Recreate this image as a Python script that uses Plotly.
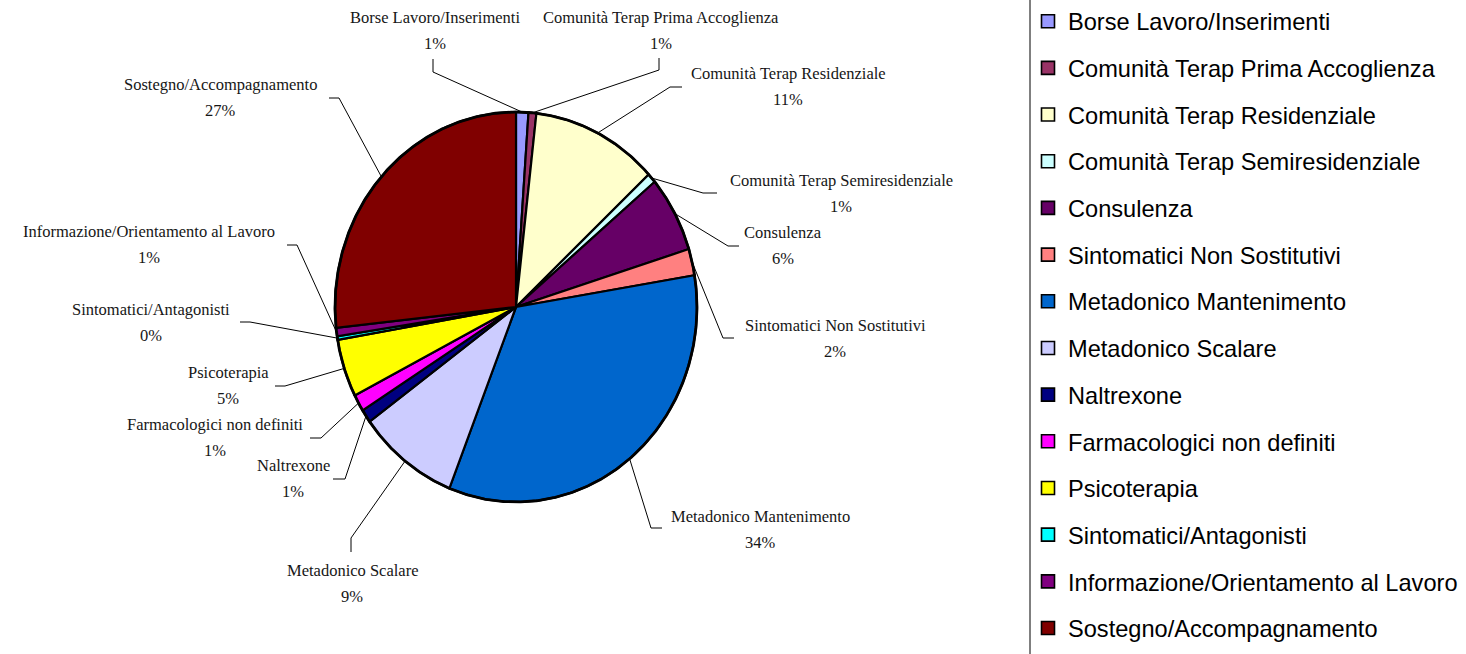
import numpy as np
import plotly.graph_objects as go

# Treatment categories, clockwise from 12 o'clock
categories = [
    "Borse Lavoro/Inserimenti",
    "Comunità Terap Prima Accoglienza",
    "Comunità Terap Residenziale",
    "Comunità Terap Semiresidenziale",
    "Consulenza",
    "Sintomatici Non Sostitutivi",
    "Metadonico Mantenimento",
    "Metadonico Scalare",
    "Naltrexone",
    "Farmacologici non definiti",
    "Psicoterapia",
    "Sintomatici/Antagonisti",
    "Informazione/Orientamento al Lavoro",
    "Sostegno/Accompagnamento",
]

# Share of treatments (%)
shares = [1.1, 0.7, 11.3, 0.8, 6.3, 2.2, 33.6, 9.0, 1.1, 1.4, 4.8, 0.3, 0.7, 26.7]

colors = [
    "#9999FF", "#993366", "#FFFFCC", "#CCFFFF", "#660066", "#FF8080", "#0066CC",
    "#CCCCFF", "#000080", "#FF00FF", "#FFFF00", "#00FFFF", "#800080", "#800000",
]

# ---- layout (pixel space) ----
W, H = 1466, 654
CX, CY = 516.0, 307.0      # pie centre
RX, RY = 181.0, 195.0      # pie radii

# label centre (x, y of the name line); percentage sits one line below
label_xy = [
    (435, 17), (661, 17), (788, 73), (841, 180), (783, 232), (835, 325),
    (760, 516), (352, 570), (293, 465), (215, 424), (228, 372), (151, 309),
    (149, 231), (220, 84),
]
# leader lines: elbow point and end point next to the label
leader_elbow = [
    (433, 72), (659, 70), (670, 87), (703, 193), (728, 246), (723, 338),
    (651, 528), (351, 538), (345, 479), (321, 438), (285, 386), (250, 322),
    (297, 245), (339, 98),
]
leader_end = [
    (433, 59), (659, 58), (682, 87), (717, 193), (739, 246), (734, 338),
    (662, 528), (351, 552), (333, 479), (310, 438), (275, 386), (240, 322),
    (287, 245), (329, 98),
]
PCT_DY = 26

LABEL_FONT = dict(family="Liberation Serif, Times New Roman, serif", size=16.5, color="#161616")
LEGEND_FONT = dict(family="Liberation Sans, Arial, sans-serif", size=23.6, color="#000000")


def edge(frac):
    """Point on the pie rim at a cumulative fraction (clockwise from top)."""
    a = 2 * np.pi * frac
    return CX + RX * np.sin(a), CY - RY * np.cos(a)


fig = go.Figure()

total = float(sum(shares))
cum = np.concatenate([[0.0], np.cumsum(shares) / total])

# slices
for i, name in enumerate(categories):
    f0, f1 = cum[i], cum[i + 1]
    n = max(3, int(np.ceil((f1 - f0) * 720)))
    t = np.linspace(f0, f1, n)
    ex, ey = edge(t)
    xs = np.concatenate([[CX], ex, [CX]])
    ys = np.concatenate([[CY], ey, [CY]])
    fig.add_trace(go.Scatter(
        x=xs, y=ys, mode="lines", fill="toself", fillcolor=colors[i],
        line=dict(color="black", width=2.2), hoverinfo="text",
        text=f"{name}: {shares[i] / total:.0%}", showlegend=False,
        legendgroup=name,
    ))

# heavier rim around the whole pie
rim_x, rim_y = edge(np.linspace(0, 1, 721))
fig.add_trace(go.Scatter(x=rim_x, y=rim_y, mode="lines", line=dict(color="black", width=2.8),
                         hoverinfo="skip", showlegend=False))

# leader lines and labels
for i, name in enumerate(categories):
    mid = (cum[i] + cum[i + 1]) / 2
    sx, sy = edge(mid)
    (ex_, ey_), (fx, fy) = leader_elbow[i], leader_end[i]
    fig.add_trace(go.Scatter(
        x=[sx, ex_, fx], y=[sy, ey_, fy], mode="lines",
        line=dict(color="black", width=1), hoverinfo="skip", showlegend=False,
    ))
    lx, ly = label_xy[i]
    pct = f"{round(shares[i] / total * 100):d}%"
    fig.add_annotation(x=lx, y=ly, xref="x", yref="y", text=name, showarrow=False,
                       xanchor="center", yanchor="middle", font=LABEL_FONT)
    fig.add_annotation(x=lx, y=ly + PCT_DY, xref="x", yref="y", text=pct, showarrow=False,
                       xanchor="center", yanchor="middle", font=LABEL_FONT)

# legend entries
for i, name in enumerate(categories):
    fig.add_trace(go.Scatter(
        x=[None], y=[None], mode="markers", name=name, legendgroup=name,
        marker=dict(symbol="square", size=13, color=colors[i],
                    line=dict(color="black", width=1.6)),
    ))

# legend frame edge
fig.add_shape(type="line", xref="paper", yref="paper", x0=1030 / W, x1=1030 / W,
              y0=0, y1=1, line=dict(color="black", width=1))

fig.update_layout(
    width=W, height=H,
    margin=dict(l=0, r=0, t=0, b=0, autoexpand=False),
    paper_bgcolor="white", plot_bgcolor="white",
    xaxis=dict(range=[0, W], visible=False, fixedrange=True),
    yaxis=dict(range=[H, 0], visible=False, fixedrange=True),
    legend=dict(
        x=1028 / W, y=1.001, xanchor="left", yanchor="top",
        font=LEGEND_FONT, tracegroupgap=13.0, bgcolor="rgba(0,0,0,0)",
        itemclick=False, itemdoubleclick=False, maxheight=720,
    ),
    showlegend=True,
)

fig.write_html("out.html")
